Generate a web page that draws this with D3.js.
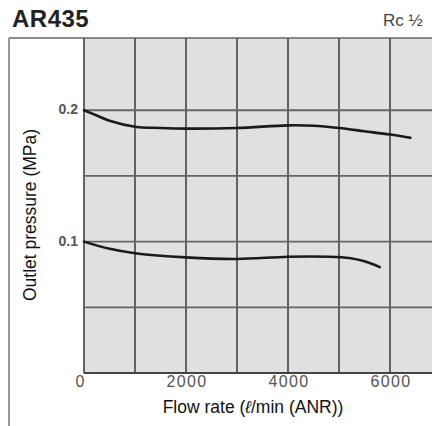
<!DOCTYPE html>
<html><head><meta charset="utf-8">
<script src="https://cdn.jsdelivr.net/npm/d3@7"></script>
<style>body{margin:0;background:#fff}svg{display:block}</style>
</head><body><svg id="c" width="432" height="426"></svg>
<script>
const title = "AR435";
const portLabel = "Rc ";
const xTicks = [0, 2000, 4000, 6000];
const xGrid = [0, 1000, 2000, 3000, 4000, 5000, 6000, 7000];
const yTicks = [0.1, 0.2];
const yGrid = [0.05, 0.1, 0.15, 0.2];
const upperFlow = [0, 250, 500, 1000, 1500, 2000, 3000, 4000, 4500, 5000, 5500, 6000, 6400];
const upperPress = [0.200, 0.196, 0.192, 0.1875, 0.1865, 0.186, 0.1865, 0.1885, 0.1882, 0.1865, 0.184, 0.1815, 0.179];
const lowerFlow = [0, 500, 1000, 2000, 3000, 4000, 4800, 5200, 5500, 5800];
const lowerPress = [0.100, 0.0945, 0.0912, 0.088, 0.0868, 0.0885, 0.0885, 0.0875, 0.085, 0.0806];

const svg = d3.select("#c");
const x = d3.scaleLinear().domain([0, 7000]).range([84, 441]);
const y = d3.scaleLinear().domain([0, 0.255]).range([373, 38]);

svg.append("rect").attr("x", x(0)).attr("y", y(0.255)).attr("width", 432 - x(0)).attr("height", y(0) - y(0.255)).attr("fill", "#e0e0e0");

svg.append("line").attr("x1", 9).attr("x2", 432).attr("y1", 38).attr("y2", 38).attr("stroke", "#666").attr("stroke-width", 1.5);
svg.append("line").attr("x1", 9).attr("x2", 9).attr("y1", 38).attr("y2", 426).attr("stroke", "#777").attr("stroke-width", 1.5);

svg.append("g").selectAll("line").data(xGrid).join("line")
  .attr("x1", d => x(d)).attr("x2", d => x(d)).attr("y1", y(0.255)).attr("y2", y(0))
  .attr("stroke", "#555").attr("stroke-width", 1.8);
svg.append("g").selectAll("line").data(yGrid).join("line")
  .attr("x1", x(0)).attr("x2", 432).attr("y1", d => y(d)).attr("y2", d => y(d))
  .attr("stroke", "#666").attr("stroke-width", 1.8);
svg.append("line").attr("x1", x(0)).attr("x2", 432).attr("y1", y(0)).attr("y2", y(0)).attr("stroke", "#444").attr("stroke-width", 2);

const line = d3.line().x(d => x(d[0])).y(d => y(d[1])).curve(d3.curveCatmullRom);
svg.append("path").datum(upperFlow.map((f, i) => [f, upperPress[i]]))
  .attr("d", line).attr("fill", "none").attr("stroke", "#1a1a1a").attr("stroke-width", 2.6).attr("stroke-linecap", "round");
svg.append("path").datum(lowerFlow.map((f, i) => [f, lowerPress[i]]))
  .attr("d", line).attr("fill", "none").attr("stroke", "#1a1a1a").attr("stroke-width", 2.6).attr("stroke-linecap", "round");

const font = "'Liberation Sans', Arial, sans-serif";
svg.append("g").selectAll("text").data(xTicks).join("text")
  .attr("x", d => d === 0 ? x(d) - 4 : x(d) + 1).attr("y", 387)
  .attr("text-anchor", "middle").attr("font-family", font).attr("font-size", 16)
  .attr("letter-spacing", d => d === 0 ? 0 : 1.3).attr("fill", "#555")
  .text(d => d);
svg.append("g").selectAll("text").data(yTicks).join("text")
  .attr("x", 78).attr("y", d => y(d) + 4).attr("text-anchor", "end")
  .attr("font-family", font).attr("font-size", 14).attr("fill", "#555").attr("font-weight", "bold")
  .text(d => d);

svg.append("text").attr("x", 12).attr("y", 27).attr("font-family", font).attr("font-weight", "bold")
  .attr("font-size", 24).attr("letter-spacing", 0.5).attr("fill", "#222").text(title);
const rc = svg.append("text").attr("x", 383).attr("y", 26).attr("font-family", font).attr("font-size", 17).attr("fill", "#444");
rc.append("tspan").text(portLabel);
rc.append("tspan").attr("font-size", 17).text("½");

const xt = svg.append("text").attr("x", 253).attr("y", 413).attr("text-anchor", "middle")
  .attr("font-family", font).attr("font-size", 17.5).attr("fill", "#111");
xt.append("tspan").text("Flow rate (");
xt.append("tspan").attr("font-style", "italic").text("ℓ");
xt.append("tspan").text("/min (ANR))");

svg.append("text").attr("transform", "translate(36,215) rotate(-90)").attr("text-anchor", "middle")
  .attr("font-family", font).attr("font-size", 17.5).attr("fill", "#111").text("Outlet pressure (MPa)");
</script></body></html>
